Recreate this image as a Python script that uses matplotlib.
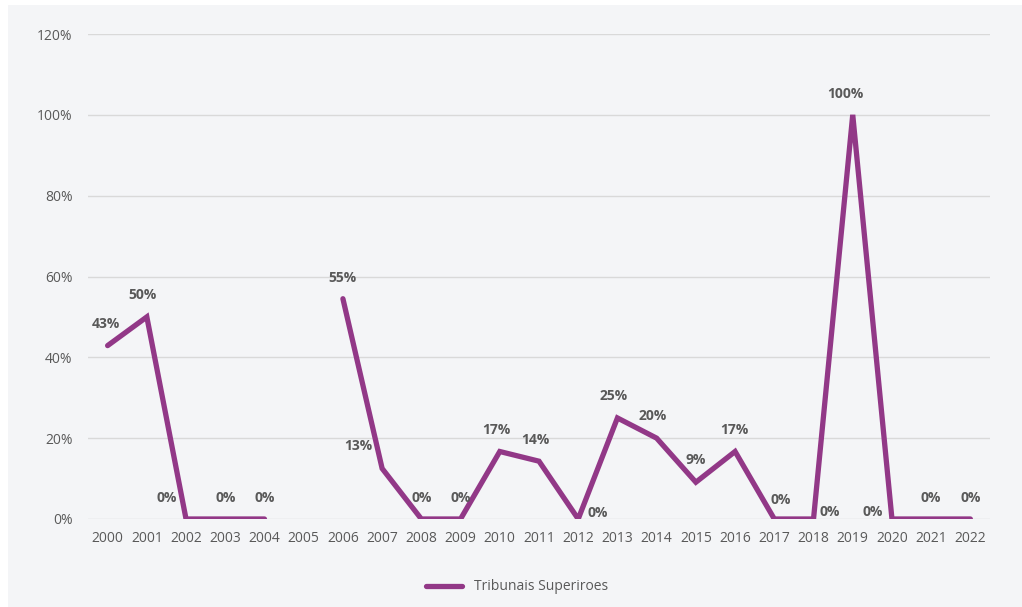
import numpy as np
import matplotlib.pyplot as plt
from matplotlib.patches import Rectangle

# data
years = [str(y) for y in range(2000, 2023)]
values = [0.429, 0.50, 0.0, 0.0, 0.0, np.nan, 0.545, 0.125, 0.0, 0.0, 0.167, 0.143,
          0.0, 0.25, 0.20, 0.091, 0.167, 0.0, 0.0, 1.0, 0.0, 0.0, 0.0]
labels = ['43%', '50%', '0%', '0%', '0%', '', '55%', '13%', '0%', '0%', '17%', '14%',
          '0%', '25%', '20%', '9%', '17%', '0%', '0%', '100%', '0%', '0%', '0%']
series_name = 'Tribunais Superiroes'

# label offsets in pixels (dx, dy)
offsets = [(-2, 22), (-4, 22), (-19, 21), (0, 21), (0, 21), (0, 0), (0, 21), (-24, 22),
           (0, 21), (0, 21), (-3, 22), (-4, 21), (19, 6), (-4, 22), (-4, 22), (0, 22),
           (-1, 22), (6, 19), (16, 7), (-7, 21), (-19, 7), (0, 21), (0, 21)]

purple = '#923887'
grey_txt = '#595959'
bg = '#f4f5f7'

plt.rcParams['font.family'] = ['Open Sans', 'DejaVu Sans']

fig = plt.figure(figsize=(10.22, 6.07), dpi=100)
fig.patch.set_facecolor('white')
fig.patches.append(Rectangle((8 / 1022, 0), 1, 1 - 5 / 607, transform=fig.transFigure,
                             facecolor=bg, edgecolor='none', zorder=-10))

ax = fig.add_axes([88 / 1022, 1 - 519 / 607, (990 - 88) / 1022, (519 - 34) / 607])
ax.set_facecolor('none')

x = np.arange(len(years))
ax.plot(x, values, color=purple, lw=3.8, solid_capstyle='round',
        solid_joinstyle='miter', label=series_name, zorder=3)

for xi, v, lab, (dx, dy) in zip(x, values, labels, offsets):
    if lab:
        ax.annotate(lab, (xi, v), xytext=(dx * 0.72, dy * 0.72), textcoords='offset points',
                    ha='center', va='center', fontsize=10, fontweight='bold', color=grey_txt)

ax.set_xlim(-0.5, len(years) - 0.5)
ax.set_ylim(0, 1.2)
ax.set_xticks(x)
ax.set_xticklabels(years)
ax.set_yticks(np.arange(0, 1.21, 0.2))
ax.set_yticklabels([f'{int(round(t * 100))}%' for t in np.arange(0, 1.21, 0.2)])
ax.tick_params(axis='both', length=0, labelsize=10, colors=grey_txt)
ax.tick_params(axis='y', pad=11)
ax.tick_params(axis='x', pad=9)
ax.grid(axis='y', color='#d9d9d9', lw=1)
ax.set_axisbelow(True)
for s in ax.spines.values():
    s.set_visible(False)

fig.legend(loc='center', bbox_to_anchor=(517 / 1022, 1 - 587 / 607), frameon=False,
           fontsize=10, handlelength=2.6, labelcolor=grey_txt)

fig.savefig('out.png', dpi=100, facecolor=fig.get_facecolor())
